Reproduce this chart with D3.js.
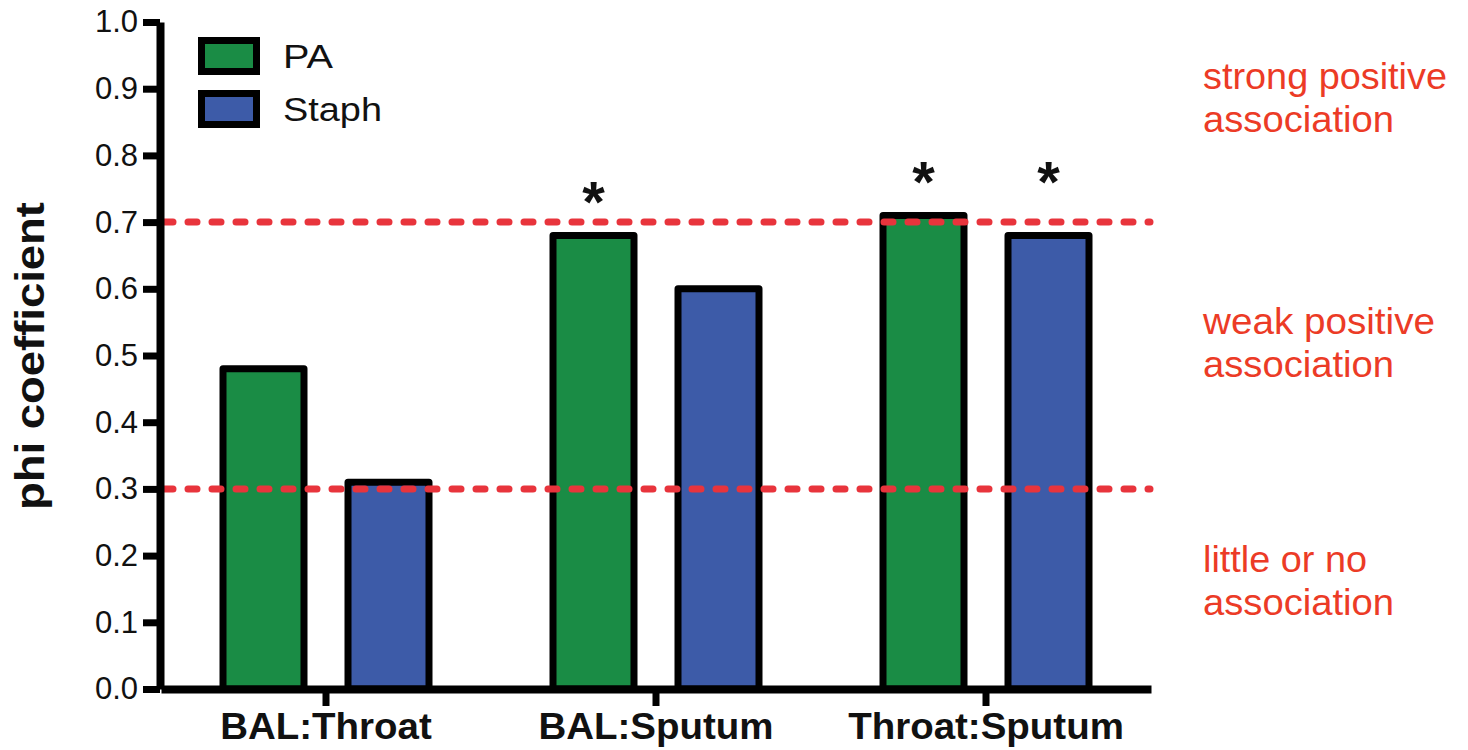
<!DOCTYPE html>
<html>
<head>
<meta charset="utf-8">
<script src="https://cdn.jsdelivr.net/npm/d3@7/dist/d3.min.js"></script>
<style>
  html, body { margin: 0; padding: 0; background: #ffffff; }
  svg { display: block; }
  text { font-family: "Liberation Sans", Arial, Helvetica, sans-serif; }
</style>
</head>
<body>
<svg id="chart" width="1468" height="750"></svg>
<script>
// ---- data ----
const categories = ["BAL:Throat", "BAL:Sputum", "Throat:Sputum"];
const seriesNames = ["PA", "Staph"];
const paValues = [0.48, 0.68, 0.71];
const staphValues = [0.31, 0.60, 0.68];
const paSignificant = [false, true, true];
const staphSignificant = [false, false, true];
const yTickValues = [0.0, 0.1, 0.2, 0.3, 0.4, 0.5, 0.6, 0.7, 0.8, 0.9, 1.0];
const thresholdValues = [0.3, 0.7];
const zoneLabels = [
  ["strong positive", "association"],
  ["weak positive", "association"],
  ["little or no", "association"]
];
const zoneCenters = [0.867, 0.50, 0.142];
const yAxisTitle = "phi coefficient";

// ---- styles ----
const seriesColors = { "PA": "#1a8c45", "Staph": "#3d5ba8" };
const redText = "#ec3b26";
const redLine = "#e8343c";

const svg = d3.select("#chart");

const y = d3.scaleLinear().domain([0, 1]).range([689, 22]);
const x = d3.scaleBand().domain(categories).range([161, 1151]).padding(0);
const xi = d3.scaleBand().domain(seriesNames).range([40, 290]).paddingInner(0.352).paddingOuter(0.176);

const rows = categories.map((c, i) => ({
  cat: c,
  vals: [
    { s: "PA", v: paValues[i], sig: paSignificant[i] },
    { s: "Staph", v: staphValues[i], sig: staphSignificant[i] }
  ]
}));

// bars
const g = svg.append("g");
const groups = g.selectAll("g.grp").data(rows).join("g")
  .attr("class", "grp")
  .attr("transform", d => `translate(${x(d.cat)},0)`);

groups.selectAll("rect").data(d => d.vals).join("rect")
  .attr("x", d => xi(d.s))
  .attr("width", xi.bandwidth())
  .attr("y", d => y(d.v))
  .attr("height", d => y(0) - y(d.v))
  .attr("fill", d => seriesColors[d.s])
  .attr("stroke", "#000")
  .attr("stroke-width", 7)
  .attr("stroke-linejoin", "round");

// asterisks
groups.each(function(d) {
  const gmax = d3.max(d.vals, v => v.v);
  d3.select(this).selectAll("text.sig").data(d.vals.filter(v => v.sig)).join("text")
    .attr("class", "sig")
    .attr("x", v => xi(v.s) + xi.bandwidth() / 2)
    .attr("y", y(gmax) - 13)
    .attr("text-anchor", "middle")
    .attr("font-size", 58)
    .attr("font-weight", "bold")
    .attr("fill", "#111")
    .text("*");
});

// threshold dashed lines
svg.selectAll("line.thr").data(thresholdValues).join("line")
  .attr("class", "thr")
  .attr("x1", 164).attr("x2", 1150)
  .attr("y1", d => y(d)).attr("y2", d => y(d))
  .attr("stroke", redLine)
  .attr("stroke-width", 7)
  .attr("stroke-linecap", "round")
  .attr("stroke-dasharray", "9 15");

// y axis
const yAxis = svg.append("g")
  .attr("transform", "translate(160,0)")
  .call(d3.axisLeft(y).tickValues(yTickValues).tickFormat(d3.format(".1f"))
    .tickSize(17).tickSizeOuter(0).tickPadding(5));
yAxis.select(".domain").attr("stroke", "#000").attr("stroke-width", 8);
yAxis.selectAll(".tick line").attr("stroke", "#000").attr("stroke-width", 7);
yAxis.selectAll(".tick text").attr("font-size", 31).attr("fill", "#111")
  .attr("font-family", "Liberation Sans, Arial, sans-serif");

// x axis
const xAxis = svg.append("g")
  .attr("transform", `translate(0,${y(0)})`)
  .call(d3.axisBottom(x).tickSize(17).tickSizeOuter(0).tickPadding(7));
xAxis.select(".domain").attr("stroke", "#000").attr("stroke-width", 8);
xAxis.selectAll(".tick line").attr("stroke", "#000").attr("stroke-width", 7);
xAxis.selectAll(".tick text").attr("font-size", 37).attr("font-weight", "bold").attr("fill", "#111")
  .attr("font-family", "Liberation Sans, Arial, sans-serif")
  .each(function() {
    const w = this.getComputedTextLength();
    d3.select(this).attr("textLength", w * 1.04).attr("lengthAdjust", "spacingAndGlyphs");
  });

// y axis title
svg.append("text")
  .attr("transform", "translate(44,356) rotate(-90)")
  .attr("text-anchor", "middle")
  .attr("font-size", 40)
  .attr("font-weight", "bold")
  .attr("fill", "#111")
  .attr("textLength", 308)
  .attr("lengthAdjust", "spacingAndGlyphs")
  .text(yAxisTitle);

// legend
const legend = svg.append("g");
const li = legend.selectAll("g").data(seriesNames).join("g")
  .attr("transform", (d, i) => `translate(0,${i * 53})`);
li.append("rect")
  .attr("x", 201.5).attr("y", 40.5).attr("width", 55).attr("height", 31)
  .attr("fill", d => seriesColors[d])
  .attr("stroke", "#000").attr("stroke-width", 7);
li.append("text")
  .attr("x", 283).attr("y", 68)
  .attr("font-size", 33)
  .attr("fill", "#111")
  .attr("textLength", d => d === "PA" ? 50 : 99)
  .attr("lengthAdjust", "spacingAndGlyphs")
  .text(d => d);

// zone labels
const zoneWidths = [[244, 191], [232, 191], [164, 191]];
zoneLabels.forEach((lines, i) => {
  const cy = y(zoneCenters[i]);
  lines.forEach((ln, j) => {
    svg.append("text")
      .attr("x", 1203)
      .attr("y", cy - 22 + j * 43)
      .attr("font-size", 37)
      .attr("fill", redText)
      .attr("textLength", zoneWidths[i][j])
      .attr("lengthAdjust", "spacingAndGlyphs")
      .text(ln);
  });
});
</script>
</body>
</html>
